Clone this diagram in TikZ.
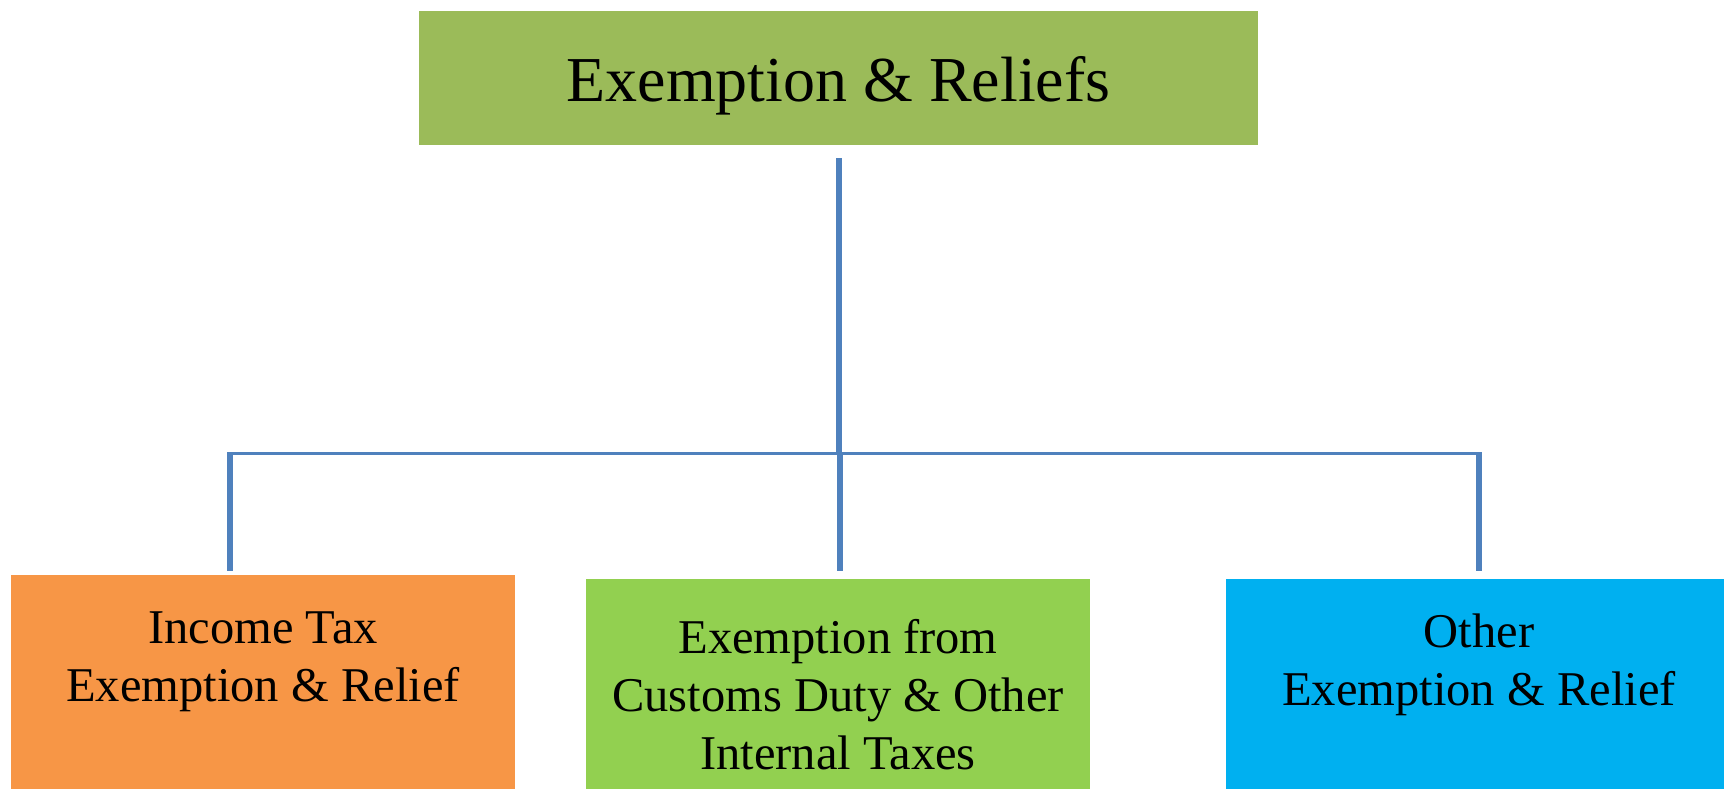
\documentclass[tikz,border=0pt]{standalone}
\usepackage{fontspec}
\setmainfont{Liberation Serif}
\definecolor{topgreen}{HTML}{9BBB59}
\definecolor{boxorange}{HTML}{F79646}
\definecolor{boxgreen}{HTML}{92D050}
\definecolor{boxblue}{HTML}{00B0F0}
\definecolor{linkblue}{HTML}{4F81BD}
\tikzset{
  box/.style={rectangle, inner sep=0pt, draw=none},
  bigtext/.style={font=\fontsize{64}{77}\selectfont, inner sep=0pt},
  boxtext/.style={font=\fontsize{48.5}{58}\selectfont, align=center, inner sep=0pt},
  trunk/.style={draw=linkblue, line width=6pt},
  busline/.style={draw=linkblue, line width=3pt},
}
\begin{document}
\begin{tikzpicture}[x=1pt, y=-1pt]
\useasboundingbox (0,0) rectangle (1724,789);
% boxes
\node[box, fill=topgreen, minimum width=839pt, minimum height=134pt] (top) at (838.5,78) {};
\node[box, fill=boxorange, minimum width=504pt, minimum height=214pt, anchor=north west] (lbox) at (11,575) {};
\node[box, fill=boxgreen, minimum width=504pt, minimum height=210pt, anchor=north west] (mbox) at (586,579) {};
\node[box, fill=boxblue, minimum width=498pt, minimum height=210pt, anchor=north west] (rbox) at (1226,579) {};
% texts (base = baseline of the last line)
\node[bigtext, anchor=base] (toptext) at (838.5,102) {Exemption \& Reliefs};
\node[boxtext, anchor=base] (ltext) at (263,701) {Income Tax\\Exemption \& Relief};
\node[boxtext, anchor=base] (mtext) at (838,769) {Exemption from\\Customs Duty \& Other\\Internal Taxes};
\node[boxtext, anchor=base] (rtext) at (1479,705) {Other\\Exemption \& Relief};
% connector points
\coordinate (b1) at (230,453.5);
\coordinate (b2) at (840,453.5);
\coordinate (b3) at (1479,453.5);
\coordinate (hub) at (top.south |- b1);
\coordinate (d1) at (230,571);
\coordinate (d2) at (840,571);
\coordinate (d3) at (1479,571);
% connectors
\draw[trunk, shorten <=13pt] (top.south) -- (hub);
\draw[busline, shorten <=-3pt, shorten >=-3pt] (b1) -- (b3);
\draw[trunk, shorten <=-1.5pt] (b1) -- (d1);
\draw[trunk, shorten <=-1.5pt] (b2) -- (d2);
\draw[trunk, shorten <=-1.5pt] (b3) -- (d3);
\end{tikzpicture}
\end{document}
